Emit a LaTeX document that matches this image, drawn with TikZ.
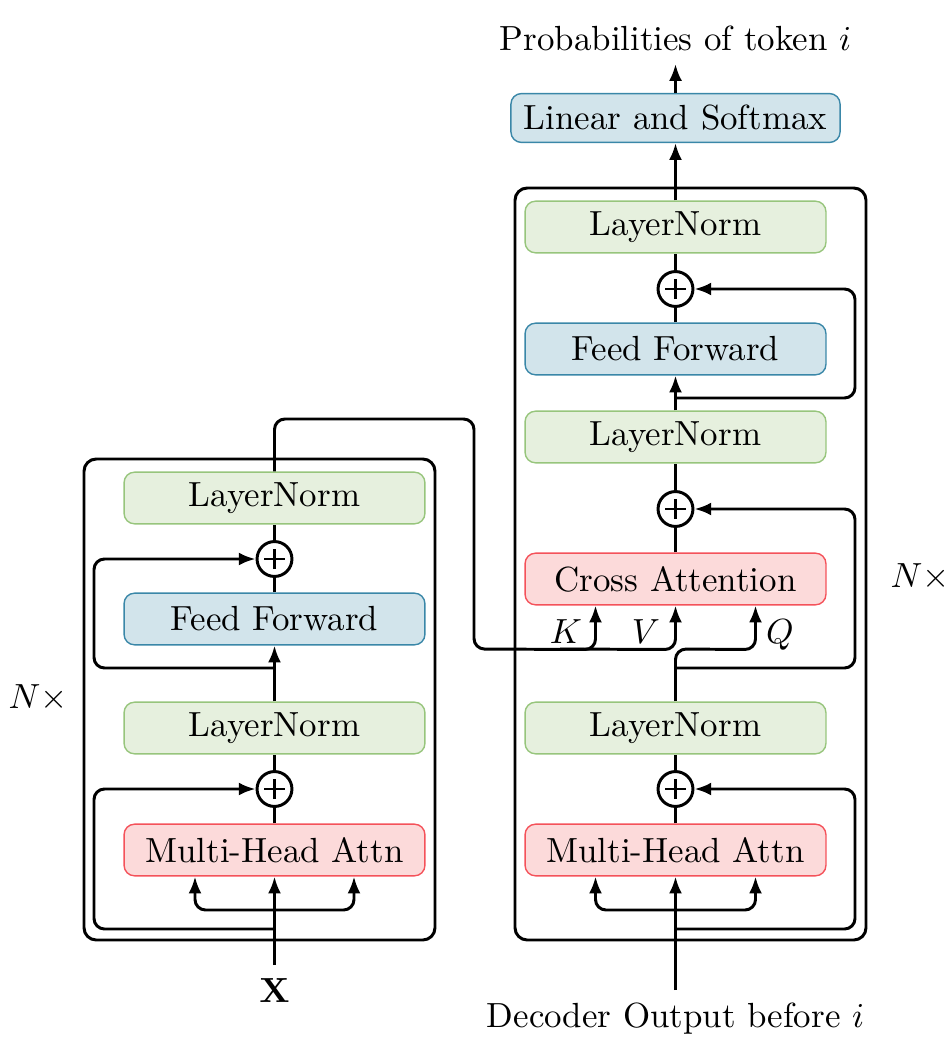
\documentclass[tikz,border=0pt]{standalone}
\usetikzlibrary{arrows.meta,calc}
\definecolor{gfill}{HTML}{E6F0DE}
\definecolor{gdraw}{HTML}{97C57C}
\definecolor{bfill}{HTML}{D2E4EB}
\definecolor{bdraw}{HTML}{3A87A8}
\definecolor{rfill}{HTML}{FCDADA}
\definecolor{rdraw}{HTML}{F4525A}
\tikzset{
  blk/.style={rounded corners=3pt, line width=0.4pt, minimum width=86.2pt, minimum height=14.8pt, inner sep=0pt},
  gblk/.style={blk, fill=gfill, draw=gdraw},
  bblk/.style={blk, fill=bfill, draw=bdraw},
  rblk/.style={blk, fill=rfill, draw=rdraw},
  addop/.style={circle, draw, line width=0.85pt, fill=white, minimum size=10pt, inner sep=0pt,
    path picture={\draw[line width=0.85pt]
      ([xshift=-2.9pt]path picture bounding box.center) -- ([xshift=2.9pt]path picture bounding box.center)
      ([yshift=-2.9pt]path picture bounding box.center) -- ([yshift=2.9pt]path picture bounding box.center);}},
  wire/.style={line width=0.85pt, rounded corners=3pt},
  arr/.style={wire, -{Latex[length=4.8pt,width=3.7pt]}},
  outer/.style={line width=0.85pt, rounded corners=3.5pt},
}
\begin{document}
\begin{tikzpicture}[x=0.2865pt,y=-0.2865pt]
\useasboundingbox (0,0) rectangle (950,1063);

% ---------- Encoder ----------
\draw[outer] (84,459) rectangle (435,940);
\node[gblk] (eln2) at (274.5,498) {LayerNorm};
\node[addop] (eadd2) at (274.5,559) {};
\node[bblk] (eff) at (274.5,619) {Feed Forward};
\node[gblk] (eln1) at (274.5,728) {LayerNorm};
\node[addop] (eadd1) at (274.5,789) {};
\node[rblk] (emha) at (274.5,850) {Multi-Head Attn};
\node[anchor=base] (xin) at (274.5,1002) {$\mathbf{X}$};
\coordinate (ein) at (274.5,965);
\coordinate (eb) at (274.5,910);
\coordinate (er1) at (274.5,929);
\coordinate (er2) at (274.5,668);
\node[anchor=base west, inner sep=0pt] (nl) at (8,708) {$N\times$};

\draw[arr] (ein) -- (emha.south);
\draw[arr] (eb) -| ($(emha.south)+(-79.5,0)$);
\draw[arr] (eb) -| ($(emha.south)+(79.5,0)$);
\draw[arr] (er1) -- (94,929) |- (eadd1.west);
\draw[wire] (emha.north) -- (eadd1.south);
\draw[wire] (eadd1.north) -- (eln1.south);
\draw[arr] (eln1.north) -- (eff.south);
\draw[arr] (er2) -- (94,668) |- (eadd2.west);
\draw[wire] (eff.north) -- (eadd2.south);
\draw[wire] (eadd2.north) -- (eln2.south);

% ---------- Decoder ----------
\draw[outer] (515,188) rectangle (866,940);
\node[bblk, minimum width=94.3pt, minimum height=14pt] (lin) at (675.5,118) {Linear and Softmax};
\node[gblk] (dln3) at (675.5,227) {LayerNorm};
\node[addop] (dadd3) at (675.5,289) {};
\node[bblk] (dff) at (675.5,349) {Feed Forward};
\node[gblk] (dln2) at (675.5,437) {LayerNorm};
\node[addop] (dadd2) at (675.5,509) {};
\node[rblk] (dca) at (675.5,579) {Cross Attention};
\node[gblk] (dln1) at (675.5,728) {LayerNorm};
\node[addop] (dadd1) at (675.5,789) {};
\node[rblk] (dmha) at (675.5,850) {Multi-Head Attn};
\node[anchor=base] (prob) at (675.5,51) {Probabilities of token $i$};
\node[anchor=base] (dout) at (675.5,1027) {Decoder Output before $i$};
\node[anchor=base west, inner sep=0pt] (nr) at (890,587) {$N\times$};
\coordinate (din) at (675.5,990);
\coordinate (db) at (675.5,910);
\coordinate (dr1) at (675.5,929);
\coordinate (dr2) at (675.5,668);
\coordinate (dr3) at (675.5,398);
\coordinate (ptop) at (675.5,64);

\draw[arr] (din) -- (dmha.south);
\draw[arr] (db) -| ($(dmha.south)+(-80,0)$);
\draw[arr] (db) -| ($(dmha.south)+(80,0)$);
\draw[arr] (dr1) -- (855,929) |- (dadd1.east);
\draw[wire] (dmha.north) -- (dadd1.south);
\draw[wire] (dadd1.north) -- (dln1.south);
\draw[wire] (dln1.north) -- (dr2);
\draw[arr] (dr2) -- (855,668) |- (dadd2.east);
\draw[arr] (dr2) -- (675.5,649) -- ($(dca.south)+(80,44)$) -- ($(dca.south)+(80,0)$);
\draw[wire] (dca.north) -- (dadd2.south);
\draw[wire] (dadd2.north) -- (dln2.south);
\draw[arr] (dln2.north) -- (dff.south);
\draw[arr] (dr3) -- (855,398) |- (dadd3.east);
\draw[wire] (dff.north) -- (dadd3.south);
\draw[wire] (dadd3.north) -- (dln3.south);
\draw[arr] (dln3.north) -- (lin.south);
\draw[arr] (lin.north) -- (ptop);

% ---------- Encoder to decoder (K, V) ----------
\coordinate (kv) at (560,649);
\draw[arr] (eln2.north) -- (274.5,419) -- (474,419) -- (474,649) -- ($(dca.south)+(-80,44)$) -- ($(dca.south)+(-80,0)$);
\draw[arr] (kv) -- ($(dca.south)+(0,44)$) -- (dca.south);
\node[anchor=base] (klab) at (566,643) {$K$};
\node[anchor=base] (vlab) at (646,643) {$V$};
\node[anchor=base] (qlab) at (780,643) {$Q$};
\end{tikzpicture}
\end{document}
